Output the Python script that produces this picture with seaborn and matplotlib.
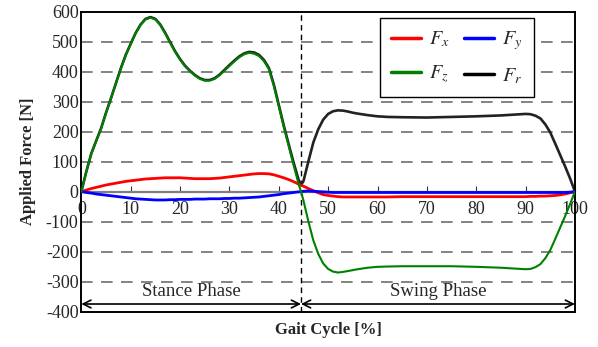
import matplotlib
matplotlib.use("Agg")
import matplotlib.pyplot as plt
import seaborn as sns
import pandas as pd
from matplotlib.lines import Line2D

# ---------------- data ----------------
gait = [0, 1, 2, 3, 4, 5, 6, 7, 8, 9, 10, 11, 12, 13, 14, 15, 16, 17, 18, 19,
        20, 21, 22, 23, 24, 25, 26, 27, 28, 29, 30, 31, 32, 33, 34, 35, 36, 37,
        38, 39, 40, 41, 42, 43, 44, 44.5, 45, 46, 47, 48, 49, 50, 51, 52, 53,
        54, 55, 56, 58, 60, 62, 65, 70, 75, 80, 85, 88, 90, 91, 92, 93, 94, 95,
        96, 97, 98, 99, 100]

fx = [0, 5, 10, 14, 18, 22, 25, 28, 31, 34, 36, 38, 40, 42, 43, 44, 45, 46, 46, 46,
      46, 45, 44, 43, 43, 43, 43, 44, 45, 47, 49, 51, 53, 55, 57, 59, 60, 60,
      59, 56, 51, 46, 40, 33, 25, 21, 18, 10, 3, -4, -10, -13, -15, -17, -18,
      -18, -18, -18, -18, -18, -18, -17, -17, -17, -17, -17, -17, -17, -16, -16, -15, -15, -14,
      -13, -11, -8, -4, 0]

fy = [0, -3, -5, -8, -10, -12, -14, -16, -18, -20, -22, -24, -25, -26, -27, -28, -28, -28, -27, -27,
      -26, -26, -26, -25, -25, -25, -24, -24, -24, -23, -23, -22, -22, -21, -20, -19, -18, -16,
      -14, -12, -10, -7, -5, -3, -1, 0, 1, 2, 1, 0, -1, -2, -3, -3, -3,
      -3, -3, -3, -3, -3, -3, -3, -3, -3, -3, -3, -3, -3, -3, -3, -3, -3, -3,
      -3, -3, -3, -2, 0]

fz = [0, 65, 125, 168, 210, 262, 310, 360, 410, 455, 492, 528, 556, 574, 580, 574, 555, 527, 496, 466,
      440, 418, 401, 387, 376, 370, 370, 376, 388, 403, 419, 434, 448, 458, 463, 460, 452, 435,
      408, 352, 284, 216, 152, 88, 26, 0, -30, -100, -163, -208, -240, -258, -267, -270, -268,
      -265, -262, -259, -254, -251, -250, -249, -249, -249, -251, -254, -257, -259, -258, -252, -242, -222, -195,
      -158, -120, -82, -42, 0]

fr = [0, 66, 126, 169, 211, 263, 311, 361, 411, 456, 493, 529, 557, 576, 582, 576, 557, 529, 498, 468,
      442, 420, 403, 389, 378, 372, 372, 378, 390, 406, 422, 437, 451, 461, 466, 464, 456, 439,
      412, 357, 289, 221, 158, 97, 40, 22, 35, 101, 164, 208, 240, 259, 268, 271, 270,
      267, 263, 260, 255, 251, 249, 248, 247, 249, 251, 254, 257, 259, 258, 253, 244, 224, 197,
      160, 122, 84, 44, 0]

x_ticks = [0, 10, 20, 30, 40, 50, 60, 70, 80, 90, 100]
y_ticks = [-400, -300, -200, -100, 0, 100, 200, 300, 400, 500, 600]
phase_split = 44.5
phase_names = ["Stance Phase", "Swing Phase"]

df = pd.DataFrame({"gait": gait, "Fx": fx, "Fy": fy, "Fz": fz, "Fr": fr})

# ---------------- style ----------------
sns.set_theme(style="white")
plt.rcParams["font.family"] = ["Liberation Serif", "DejaVu Serif"]
plt.rcParams["mathtext.fontset"] = "stix"

fig = plt.figure(figsize=(5.98, 3.47), dpi=100)
ax = fig.add_axes([0.136, 0.1023, 0.8255, 0.8640])

# grid lines (dashed)
for yv in [-300, -200, -100, 100, 200, 300, 400, 500]:
    ax.axhline(yv, color="#6e6e6e", lw=1.2, dashes=(7, 5), zorder=0.5)
ax.axhline(0, color="#7f7f7f", lw=1.6, zorder=0.6)
ax.axvline(phase_split, color="black", lw=1.0, dashes=(4, 3), zorder=0.7)

sns.lineplot(data=df, x="gait", y="Fr", color="#222222", lw=1.9, ax=ax, zorder=2)
sns.lineplot(data=df, x="gait", y="Fx", color="#ff0000", lw=2.0, ax=ax, zorder=3)
sns.lineplot(data=df, x="gait", y="Fy", color="#0000ff", lw=2.0, ax=ax, zorder=3)
sns.lineplot(data=df, x="gait", y="Fz", color="#008000", lw=1.5, ax=ax, zorder=4)

ax.set_xlim(0, 100)
ax.set_ylim(-400, 600)
ax.set_yticks(y_ticks)
ax.set_yticklabels([str(v) for v in y_ticks], fontsize=13)
ax.tick_params(axis="y", length=0, pad=2)
ax.set_xticks([])
ax.set_xlabel("")
ax.set_ylabel("Applied Force [N]", fontsize=12, fontweight="bold", labelpad=7)
fig.text(0.5485, 1 - 330 / 347, "Gait Cycle [%]", ha="center", va="center",
         fontsize=12, fontweight="bold")

# x axis drawn along y = 0
sec = ax.secondary_xaxis(0.4)
sec.set_xticks(x_ticks)
sec.set_xticklabels([str(v) for v in x_ticks], fontsize=13)
sec.tick_params(axis="x", direction="in", length=4, width=0.8, color="#333333", pad=7)
sec.spines["bottom"].set_visible(False)

for s in ax.spines.values():
    s.set_color("black")
    s.set_linewidth(1.4)
    s.set_visible(True)

# phase arrows
arrow_y = -375
for x0, x1, name in [(0, phase_split, phase_names[0]), (phase_split, 100, phase_names[1])]:
    ax.annotate("", xy=(x0, arrow_y), xytext=(x1, arrow_y),
                arrowprops=dict(arrowstyle="<->", color="black", lw=1.2,
                                shrinkA=0, shrinkB=0, mutation_scale=14), zorder=5)
    ax.text((x0 + x1) / 2, arrow_y + 12, name, ha="center", va="bottom", fontsize=13.5)

handles = [Line2D([], [], color="#ff0000", lw=2.5),
           Line2D([], [], color="#008000", lw=2.5),
           Line2D([], [], color="#0000ff", lw=2.5),
           Line2D([], [], color="black", lw=2.5)]
labels = ["$F_x$", "$F_z$", "$F_y$", "$F_r$"]
leg = ax.legend(handles, labels, ncol=2, loc="upper left", bbox_to_anchor=(0.605, 0.978),
                borderaxespad=0, fontsize=14.5, frameon=True, fancybox=False,
                edgecolor="black", framealpha=1, handlelength=1.5, handletextpad=0.4,
                columnspacing=0.7, labelspacing=0.7, borderpad=0.55)
leg.get_frame().set_linewidth(1.0)
leg.set_zorder(10)

fig.savefig("out.png", dpi=100)
